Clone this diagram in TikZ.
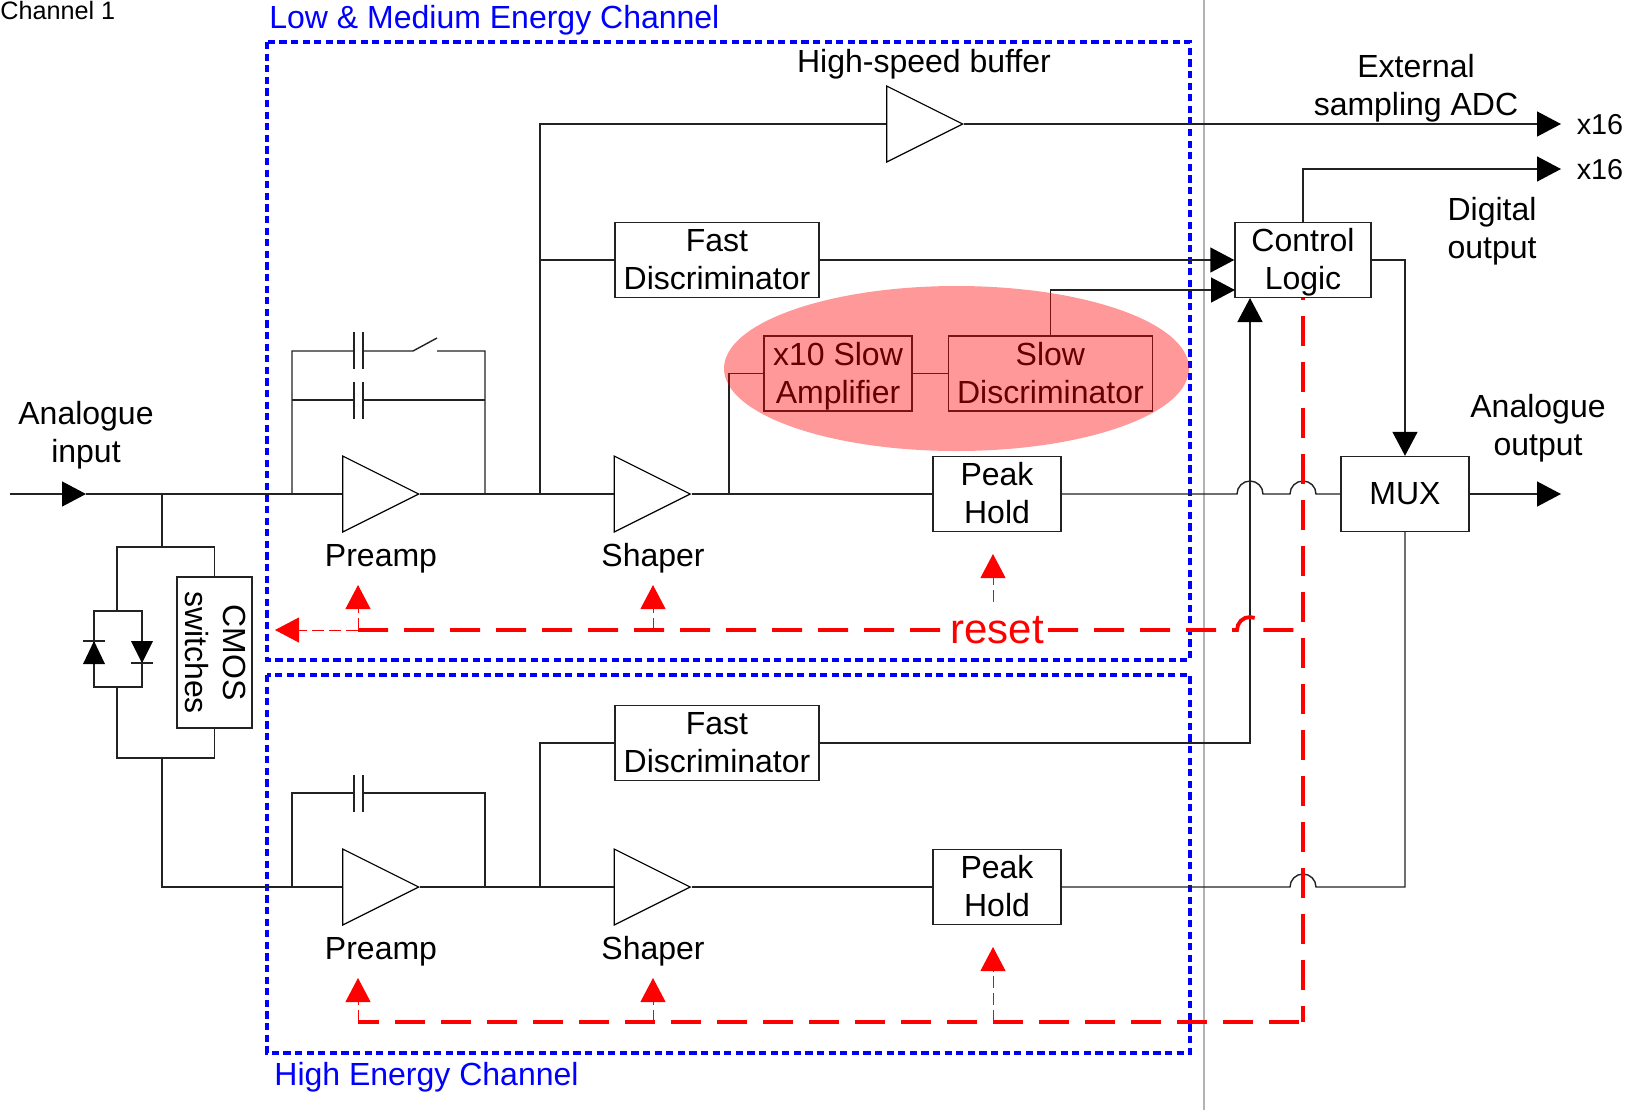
\documentclass[tikz,border=0pt]{standalone}
\usepackage{xcolor}
\usepackage{fontspec}
\setmainfont{Liberation Sans}
\usetikzlibrary{shapes.geometric,arrows.meta,positioning}
\definecolor{wire}{HTML}{222222}
\definecolor{bound}{HTML}{0000FF}
\definecolor{rst}{HTML}{FF0000}
\newcommand{\boxstrut}{\rule[-4pt]{0pt}{18.5pt}}
\newcommand{\twolines}[2]{\boxstrut #1\\\boxstrut #2}
\begin{document}
\begin{tikzpicture}[
    x=0.5pt,y=-0.5pt,
    font=\fontsize{16}{19}\selectfont,
    every node/.style={inner sep=0pt},
    block/.style={draw=wire,line width=0.7pt,fill=white,minimum height=37.5pt,align=center},
    amp/.style={draw=black,line width=0.6pt,fill=white,shape=isosceles triangle,isosceles triangle apex angle=53.13,minimum height=38pt,minimum width=37.5pt,anchor=apex},
    lbl/.style={align=center},
    wiring/.style={draw=wire,line width=0.7pt},
    arrow/.style={wiring,-{Triangle[length=12pt,width=12.5pt,color=black]}},
    plate/.style={draw=wire,line width=0.6pt},
    diode/.style={draw=none,fill=black},
    channel/.style={draw=bound,line width=1.9pt,dash pattern=on 3.6pt off 2.2pt},
    resetbus/.style={draw=rst,line width=1.9pt,dash pattern=on 15pt off 8pt},
    resetarrow/.style={draw=rst,line width=0.5pt,dash pattern=on 6pt off 2.5pt,-{Triangle[length=12pt,width=12.5pt]}}
  ]
    \useasboundingbox (0,0) rectangle (1645,1110);
    \draw[draw=black!30,line width=1pt] (1204,0) -- (1204,1110);

    % channel frames
    \draw[channel] (267,42) rectangle (1190,660);
    \draw[channel] (267,675) rectangle (1190,1053);
    \node[lbl,text=bound,anchor=west] (lowlabel) at (269,20) {Low \& Medium Energy Channel};
    \node[lbl,text=bound,anchor=west] (highlabel) at (274,1077) {High Energy Channel};
    \node[lbl,anchor=base west,font=\fontsize{12.6}{15}\selectfont] (chlabel) at (0,19) {Channel 1};

    % upper chain
    \node[amp] (pre1) at (420,494) {};
    \node[amp] (shp1) at (691.5,494) {};
    \node[amp] (buf) at (964,124) {};
    \node[block,minimum width=102pt] (fast1) at (717,260) {\twolines{Fast}{Discriminator}};
    \node[block,minimum width=74pt] (amp10) at (838,373.5) {\twolines{x10 Slow}{Amplifier}};
    \node[block,minimum width=102pt,right=17.5pt of amp10] (slow) {\twolines{Slow}{Discriminator}};
    \node[block,minimum width=64pt] (peak1) at (997,494) {\twolines{Peak}{Hold}};
    \node[block,minimum width=68pt] (ctrl) at (1303,260) {\twolines{Control}{Logic}};
    \node[block,minimum width=64pt] (mux) at (1405,494) {MUX};

    % lower chain
    \node[amp] (pre2) at (420,887) {};
    \node[amp] (shp2) at (691.5,887) {};
    \node[block,minimum width=102pt] (fast2) at (717,743) {\twolines{Fast}{Discriminator}};
    \node[block,minimum width=64pt] (peak2) at (997,887) {\twolines{Peak}{Hold}};

    % protection
    \node[block,minimum width=75.5pt,minimum height=37.5pt,rotate=-90] (cmos) at (214.5,652.5) {\twolines{CMOS}{switches}};

    % labels
    \node[lbl] (ainlabel) at (86,435) {Analogue\\input};
    \node[lbl] (aoutlabel) at (1538,428) {Analogue\\output};
    \node[lbl] (extlabel) at (1416,88) {External\\sampling ADC};
    \node[lbl] (buflabel) at (924,64) {High-speed buffer};
    \node[lbl] (diglabel) at (1492,231.5) {Digital\\output};
    \node[lbl,font=\fontsize{14.4}{17}\selectfont] (x16a) at (1600,125) {x16};
    \node[lbl,font=\fontsize{14.4}{17}\selectfont] (x16b) at (1600,170) {x16};
    \node[lbl] (prelabel1) at (381,558.5) {Preamp};
    \node[lbl] (shplabel1) at (653,558) {Shaper};
    \node[lbl] (prelabel2) at (381,951.5) {Preamp};
    \node[lbl] (shplabel2) at (653,951) {Shaper};

    \coordinate (in) at (10,494);
    \coordinate (inmid) at (86,494);
    \coordinate (split) at (162,494);
    \coordinate (join) at (162,887);
    \coordinate (fb1l) at (292,494);
    \coordinate (fb1r) at (485,494);
    \coordinate (fb2l) at (292,887);
    \coordinate (fb2r) at (485,887);
    \coordinate (tap1) at (540,494);
    \coordinate (tap2) at (540,887);
    \coordinate (tap3) at (729,494);

    % input and diode loop
    \draw[arrow] (in) -- (inmid);
    \draw[wiring] (inmid) -- (pre1.lower side);
    \draw[wiring] (split) -- (162,547);
    \draw[wiring] (117,611) -- (117,547) -| (cmos.west);
    \draw[wiring] (117,687) -- (117,758) -| (cmos.east);
    \draw[wiring] (162,758) -- (join) -- (pre2.lower side);
    \draw[wiring] (94,611) rectangle (142,687);
    \fill[diode] (83,664) -- (105,664) -- (94,641) -- cycle;
    \draw[plate] (83,641) -- (105,641);
    \fill[diode] (131,641) -- (153,641) -- (142,663) -- cycle;
    \draw[plate] (131,663) -- (153,663);

    % feedback, upper preamp
    \draw[wiring] (fb1l) -- (292,351) -- (354,351) (363,351) -- (413,351) -- (437,338) (437,351) -- (485,351) -- (fb1r);
    \draw[wiring] (292,400) -- (354,400) (363,400) -- (485,400);
    \foreach \xp in {354,363} {
      \draw[plate] (\xp,332) -- (\xp,369);
      \draw[plate] (\xp,382) -- (\xp,419);
      \draw[plate] (\xp,775) -- (\xp,812);
    }
    % feedback, lower preamp
    \draw[wiring] (fb2l) -- (292,793) -- (354,793) (363,793) -- (485,793) -- (fb2r);

    % signal paths
    \draw[wiring] (pre1.apex) -- (shp1.lower side);
    \draw[wiring] (shp1.apex) -- (peak1.west);
    \draw[wiring] (tap1) -- (540,124) -- (buf.lower side);
    \draw[arrow] (buf.apex) -- (1561,124);
    \draw[wiring] (540,260) -- (fast1.west);
    \draw[arrow] (fast1.east) -- (ctrl.west);
    \draw[wiring] (tap3) |- (amp10.west);
    \draw[wiring] (amp10.east) -- (slow.west);
    \draw[arrow] (slow.north) |- (1235,290);
    \draw[wiring] (peak1.east) -- (1237,494) arc[start angle=180,end angle=0,radius=6.5pt] -- (1290,494) arc[start angle=180,end angle=0,radius=6.5pt] -- (mux.west);
    \draw[arrow] (mux.east) -- (1561,494);
    \draw[arrow] (ctrl.north) |- (1561,169);
    \draw[arrow] (ctrl.east) -| (mux.north);
    \draw[wiring] (pre2.apex) -- (shp2.lower side);
    \draw[wiring] (shp2.apex) -- (peak2.west);
    \draw[wiring] (tap2) |- (fast2.west);
    \draw[arrow] (fast2.east) -| (1250,298);
    \draw[wiring] (peak2.east) -- (1290,887) arc[start angle=180,end angle=0,radius=6.5pt] -- (1405,887) -- (mux.south);

    % reset lines
    \draw[resetarrow] (358,630) -- (275,630);
    \foreach \xa in {358,653} {
      \draw[resetarrow] (\xa,630) -- (\xa,585);
      \draw[resetarrow] (\xa,1022) -- (\xa,978);
    }
    \draw[resetarrow] (993,602) -- (993,554);
    \draw[resetarrow] (993,1022) -- (993,947);
    \draw[resetbus] (358,630) -- (1237,630) arc[start angle=180,end angle=0,radius=6.5pt] -- (1303,630);
    \draw[resetbus,dash phase=4.5pt] (358,1022) -- (1303,1022);
    \draw[resetbus,dash phase=14pt] (ctrl.south) -- (1303,1022);
    \node[text=rst,fill=white,font=\fontsize{21}{24}\selectfont,inner xsep=1pt] (resetlabel) at (997,630) {reset};

    % highlight over the slow branch
    \fill[red,opacity=0.4] (956.5,368.5) ellipse[x radius=116.25pt,y radius=41.25pt];
  \end{tikzpicture}
\end{document}
